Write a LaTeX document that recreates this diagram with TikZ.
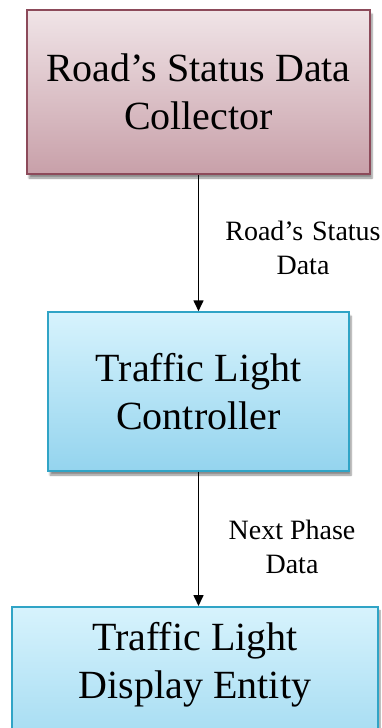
\documentclass[tikz,border=0pt]{standalone}
\usepackage{fontspec}
\setmainfont{Liberation Serif}
\usetikzlibrary{arrows.meta,shadows.blur}

\definecolor{roseTop}{HTML}{F0E4E7}
\definecolor{roseBot}{HTML}{C8A0A9}
\definecolor{roseLine}{HTML}{8C4A5A}
\definecolor{blueTop}{HTML}{D7F3FD}
\definecolor{blueBot}{HTML}{94D4EE}
\definecolor{blueLine}{HTML}{30A4C6}

\tikzset{
  boxtext/.style={align=center, font=\fontsize{40}{48}\selectfont},
  flowbox/.style={boxtext, rectangle, line width=1.5pt,
    blur shadow={shadow xshift=2pt, shadow yshift=-4pt, shadow blur steps=6, shadow opacity=45}},
  rosebox/.style={flowbox, draw=roseLine, top color=roseTop, bottom color=roseBot},
  bluebox/.style={flowbox, draw=blueLine, top color=blueTop, bottom color=blueBot},
  flowlabel/.style={align=center, font=\fontsize{28}{34}\selectfont},
  flowarrow/.style={-{Triangle[width=10pt,length=11pt]}, line width=1.6pt}
}

\begin{document}
\begin{tikzpicture}[x=1pt,y=1pt]
  \clip (0,0) rectangle (381,-728);

  \node[rosebox, minimum width=343pt, minimum height=164pt] (collector) at (198.5,-92) {Road’s Status Data\\Collector};
  \node[bluebox, minimum width=301pt, minimum height=159pt] (controller) at (198.5,-391.5) {Traffic Light\\Controller};
  \node[bluebox, minimum width=366pt, minimum height=180pt, anchor=north] (display) at (195,-606) {};
  \node[boxtext] (display text) at ([yshift=-58.5pt]display.north) {Traffic Light\\Display Entity};

  \draw[flowarrow] (collector) -- (controller);
  \draw[flowarrow] (controller.south) -- (controller.south |- display.north);

  \node[flowlabel] (status label) at (303,-248) {Road’s\hspace{9pt}Status\\Data};
  \node[flowlabel] (phase label) at (292,-547) {Next Phase\\Data};
\end{tikzpicture}
\end{document}
